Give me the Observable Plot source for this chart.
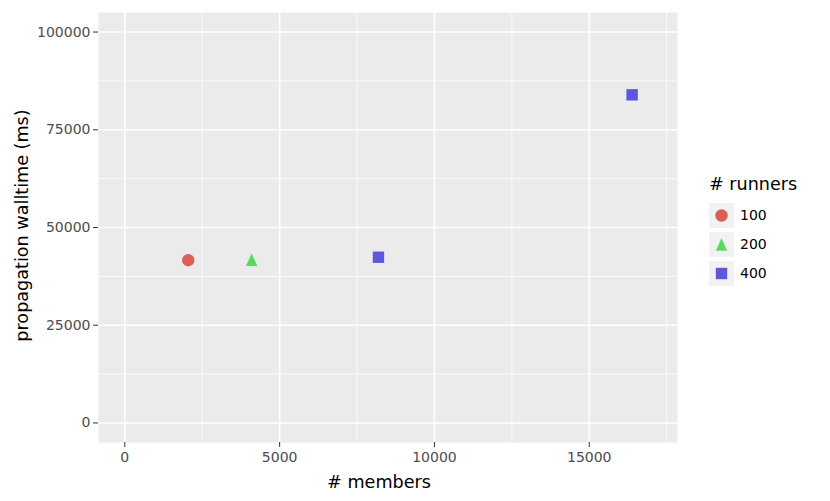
<!DOCTYPE html>
<html>
<head>
<meta charset="utf-8">
<script src="https://cdn.jsdelivr.net/npm/d3@7"></script>
<script src="https://cdn.jsdelivr.net/npm/@observablehq/plot@0.6"></script>
<style>
  html, body { margin: 0; padding: 0; background: white; }
  #chart { position: relative; width: 830px; height: 501px; }
</style>
</head>
<body>
<div id="chart"></div>
<script>
// ---- data ----
const members = [2048, 4096, 8192, 16384];
const walltime = [41630, 41750, 42390, 83940];
const runners = ["100", "200", "400", "400"];
const runnerLevels = ["100", "200", "400"];
const levelColors = ["#db5f57", "#57db5f", "#5f57db"];
const xTicks = [0, 5000, 10000, 15000];
const xMinor = [2500, 7500, 12500, 17500];
const yTicks = [0, 25000, 50000, 75000, 100000];
const yMinor = [12500, 37500, 62500, 87500];
const xTitle = "# members";
const yTitle = "propagation walltime (ms)";
const legendTitle = "# runners";

const data = members.map((m, i) => ({members: m, walltime: walltime[i], runners: runners[i]}));

// matplotlib-like markers
const mplCircle = {draw(ctx, size) { const r = Math.sqrt(size / Math.PI); ctx.moveTo(r, 0); ctx.arc(0, 0, r, 0, 2 * Math.PI); ctx.closePath(); }};
const mplTriangle = {draw(ctx, size) { const r = Math.sqrt(size / Math.PI); const w = r * 0.92, h = r; ctx.moveTo(0, -h); ctx.lineTo(w, h); ctx.lineTo(-w, h); ctx.closePath(); }};
const mplSquare = {draw(ctx, size) { const r = Math.sqrt(size / Math.PI) * 0.92; ctx.moveTo(-r, -r); ctx.lineTo(r, -r); ctx.lineTo(r, r); ctx.lineTo(-r, r); ctx.closePath(); }};
const symbols = [mplCircle, mplTriangle, mplSquare];

const font = "DejaVu Sans";
const plot = Plot.plot({
  width: 830,
  height: 501,
  marginLeft: 98,
  marginRight: 153,
  marginTop: 12,
  marginBottom: 59,
  style: {fontFamily: font, background: "white", overflow: "visible"},
  x: {domain: [-850, 17850]},
  y: {domain: [-5000, 105000]},
  color: {domain: runnerLevels, range: levelColors},
  symbol: {domain: runnerLevels, range: symbols},
  marks: [
    Plot.frame({fill: "#EBEBEB", stroke: null}),
    Plot.gridX(xMinor, {stroke: "white", strokeOpacity: 1, strokeWidth: 0.8}),
    Plot.gridY(yMinor, {stroke: "white", strokeOpacity: 1, strokeWidth: 0.8}),
    Plot.gridX(xTicks, {stroke: "white", strokeOpacity: 1, strokeWidth: 1.6}),
    Plot.gridY(yTicks, {stroke: "white", strokeOpacity: 1, strokeWidth: 1.6}),
    Plot.axisX(xTicks, {tickSize: 5, tickPadding: 5, stroke: "#333333", fill: "#4D4D4D", fontSize: 14, label: null, tickFormat: d => String(d)}),
    Plot.axisY(yTicks, {tickSize: 5, tickPadding: 3, stroke: "#333333", fill: "#4D4D4D", fontSize: 14, label: null, tickFormat: d => String(d)}),
    Plot.text([xTitle], {text: d => d, frameAnchor: "bottom", dx: -9, dy: 40, fontSize: 17.6, fill: "black", lineAnchor: "middle", textAnchor: "middle"}),
    Plot.text([yTitle], {text: d => d, frameAnchor: "left", dx: -76, dy: -2, rotate: -90, fontSize: 17.6, fill: "black", lineAnchor: "middle", textAnchor: "middle"}),
    Plot.dot(data, {x: "members", y: "walltime", symbol: "runners", fill: "runners", r: 6.2, stroke: null})
  ]
});
document.getElementById("chart").appendChild(plot);

// ---- legend (uses Plot's own colour & symbol scales) ----
const colorScale = plot.scale("color");
const symbolScale = plot.scale("symbol");
const svg = d3.select(plot);
const lg = svg.append("g").attr("font-family", font).attr("text-anchor", "start");
lg.append("text").attr("x", 709).attr("y", 190).attr("font-size", 17.6).attr("fill", "black").attr("text-anchor", "start").text(legendTitle);
const keySize = 25, keyGap = 4, keyTop = 203, keyLeft = 709;
colorScale.domain.forEach((lvl, i) => {
  const y0 = keyTop + i * (keySize + keyGap);
  lg.append("rect").attr("x", keyLeft).attr("y", y0).attr("width", keySize).attr("height", keySize).attr("fill", "#F2F2F2");
  const sym = symbolScale.range[symbolScale.domain.indexOf(lvl)];
  lg.append("path")
    .attr("transform", `translate(${keyLeft + keySize / 2},${y0 + keySize / 2})`)
    .attr("d", d3.symbol(sym, Math.PI * 6.2 * 6.2)())
    .attr("fill", colorScale.range[i]);
  lg.append("text").attr("x", keyLeft + keySize + 6).attr("y", y0 + keySize / 2).attr("dy", "0.35em")
    .attr("font-size", 14).attr("fill", "black").attr("text-anchor", "start").text(lvl);
});
</script>
</body>
</html>
